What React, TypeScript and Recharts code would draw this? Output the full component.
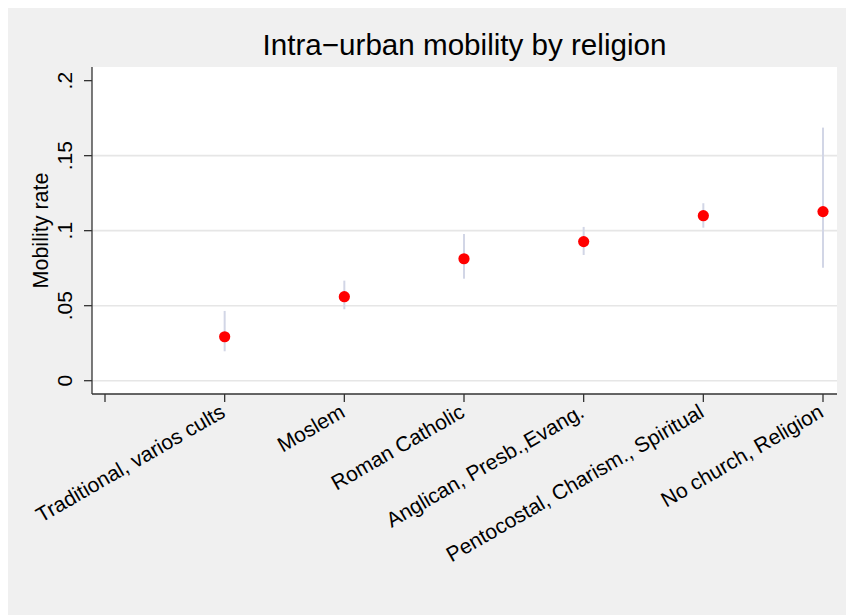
import React from 'react';
import {
  ScatterChart,
  Scatter,
  XAxis,
  YAxis,
  CartesianGrid,
  ErrorBar,
} from 'recharts';

// Religion groups, in plotting order (positions 1..6 on the x scale)
const religions = [
  'Traditional, varios cults',
  'Moslem',
  'Roman Catholic',
  'Anglican, Presb.,Evang.',
  'Pentocostal, Charism., Spiritual',
  'No church, Religion',
];

// Mean intra-urban mobility rate per group
const mobilityRate = [0.0293, 0.056, 0.0813, 0.0927, 0.11, 0.1127];
// Lower and upper confidence bounds
const ciLower = [0.0196, 0.0476, 0.068, 0.0838, 0.102, 0.0753];
const ciUpper = [0.0465, 0.0667, 0.0978, 0.1025, 0.1183, 0.1687];

const yTicks = [0, 0.05, 0.1, 0.15, 0.2];
const gridValues = [0, 0.05, 0.1, 0.15];
const xTicks = [0, 1, 2, 3, 4, 5, 6];

const data = religions.map((name, i) => ({
  name,
  pos: i + 1,
  rate: mobilityRate[i],
  ci: [mobilityRate[i] - ciLower[i], ciUpper[i] - mobilityRate[i]],
}));

const FONT = '"Liberation Sans", Arial, Helvetica, sans-serif';
const AXIS = '#333333';
const W = 838;
const H = 607;
const LABEL_SIZE = 21;

const fmtY = (v: number) => (v === 0 ? '0' : String(v).replace(/^0/, ''));

const YTick = (props: any) => {
  const { x, y, payload } = props;
  const bx = x - 12;
  return (
    <text
      x={bx}
      y={y}
      textAnchor="middle"
      transform={`rotate(-90, ${bx}, ${y})`}
      fontFamily={FONT}
      fontSize={LABEL_SIZE}
      fill="#000"
    >
      {fmtY(payload.value)}
    </text>
  );
};

const XTick = (props: any) => {
  const { x, y, payload } = props;
  const label = religions[payload.value - 1] ?? '';
  if (!label) return null;
  const ax = x + 2;
  const ay = y + 14;
  return (
    <text
      x={ax}
      y={ay}
      textAnchor="end"
      transform={`rotate(-30, ${ax}, ${ay})`}
      fontFamily={FONT}
      fontSize={LABEL_SIZE}
      fill="#000"
    >
      {label}
    </text>
  );
};

const YTitle = (props: any) => {
  const vb = props.viewBox || {};
  const tx = (vb.x ?? 0) + 40;
  const ty = (vb.y ?? 0) + (vb.height ?? 0) / 2;
  return (
    <text
      x={tx}
      y={ty}
      textAnchor="middle"
      transform={`rotate(-90, ${tx}, ${ty})`}
      fontFamily={FONT}
      fontSize={21.5}
      fill="#000"
    >
      Mobility rate
    </text>
  );
};

const Dot = (props: any) => {
  const { cx, cy } = props;
  return <circle cx={cx} cy={cy} r={5.6} fill="#ff0000" />;
};

export default function App() {
  return (
    <>
      <style>{'body{margin:0}'}</style>
      <div style={{ width: 846, height: 615, boxSizing: 'border-box', paddingLeft: 8, paddingTop: 8, overflow: 'hidden' }}>
        <div style={{ position: 'relative', width: W, height: H, background: '#f0f0f0' }}>
          <ScatterChart
            width={W}
            height={H}
            margin={{ top: 59, right: 9, left: 0, bottom: 0 }}
          >
            <CartesianGrid
              horizontal
              vertical={false}
              horizontalValues={gridValues}
              fill="#ffffff"
              stroke="#e6e6e6"
              strokeWidth={1.6}
            />
            <XAxis
              type="number"
              dataKey="pos"
              domain={[-0.1086, 6.117]}
              allowDataOverflow
              ticks={xTicks}
              interval={0}
              height={221}
              tickSize={8}
              tickMargin={0}
              stroke={AXIS}
              strokeWidth={1.3}
              tick={<XTick />}
            />
            <YAxis
              type="number"
              dataKey="rate"
              domain={[-0.00887, 0.2091]}
              allowDataOverflow
              ticks={yTicks}
              interval={0}
              width={84}
              tickSize={8}
              tickMargin={0}
              stroke={AXIS}
              strokeWidth={1.3}
              tick={<YTick />}
              label={<YTitle />}
            />
            <Scatter
              data={data}
              dataKey="rate"
              isAnimationActive={false}
              shape={<Dot />}
            >
              <ErrorBar
                dataKey="ci"
                direction="y"
                width={0}
                stroke="#d2d6e6"
                strokeWidth={2}
                isAnimationActive={false}
              />
            </Scatter>
          </ScatterChart>
          <svg
            width={W}
            height={70}
            style={{ position: 'absolute', left: 0, top: 0, pointerEvents: 'none' }}
          >
            <text
              x={456.5}
              y={47}
              textAnchor="middle"
              fontFamily={FONT}
              fontSize={29.6}
              fill="#000"
            >
              Intra−urban mobility by religion
            </text>
          </svg>
        </div>
      </div>
    </>
  );
}
